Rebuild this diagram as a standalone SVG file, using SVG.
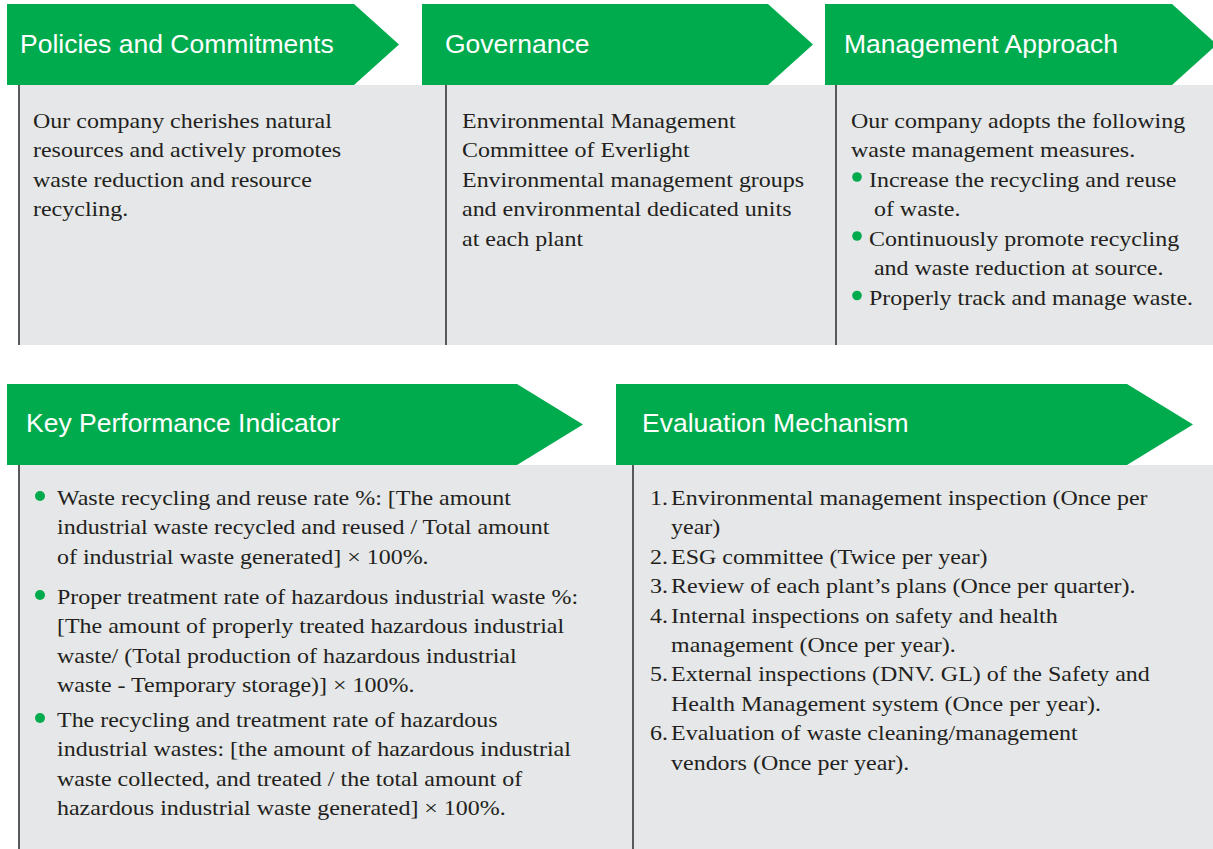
<svg xmlns="http://www.w3.org/2000/svg" width="1213" height="849" viewBox="0 0 1213 849">
<style>
.bg{fill:#E6E7E8}
.ban{fill:#00AB4E}
.vl{stroke:#58595B;stroke-width:2}
.hd{font-family:"Liberation Sans",Arial,sans-serif;font-size:26.5px;fill:#FFFFFF}
.tx{font-family:"Liberation Serif","Times New Roman",serif;font-size:22px;fill:#231F20}
.dot{fill:#00AB4E}
</style>
<rect width="1213" height="849" fill="#FFFFFF"/>
<rect class="bg" x="18" y="85" width="1195" height="260"/>
<rect class="bg" x="18" y="465" width="1195" height="384"/>
<g id="connectors">
<line class="vl" x1="19" y1="85" x2="19" y2="345"/>
<line class="vl" x1="446" y1="85" x2="446" y2="345"/>
<line class="vl" x1="836" y1="85" x2="836" y2="345"/>
<line class="vl" x1="19" y1="465" x2="19" y2="849"/>
<line class="vl" x1="633" y1="465" x2="633" y2="849"/>
</g>
<g id="policies">
<polygon class="ban" points="7,4 354,4 399,44.5 354,85 7,85"/>
<text class="hd" x="20" y="53">Policies and Commitments</text>
<text class="tx" transform="translate(33 128) scale(1.09 1)"><tspan x="0" dy="0">Our company cherishes natural</tspan><tspan x="0" dy="29.5">resources and actively promotes</tspan><tspan x="0" dy="29.5">waste reduction and resource</tspan><tspan x="0" dy="29.5">recycling.</tspan></text>
</g>
<g id="governance">
<polygon class="ban" points="422,4 768,4 813,44.5 768,85 422,85"/>
<text class="hd" x="445" y="53">Governance</text>
<text class="tx" transform="translate(462 128) scale(1.09 1)"><tspan x="0" dy="0">Environmental Management</tspan><tspan x="0" dy="29.5">Committee of Everlight</tspan><tspan x="0" dy="29.5">Environmental management groups</tspan><tspan x="0" dy="29.5">and environmental dedicated units</tspan><tspan x="0" dy="29.5">at each plant</tspan></text>
</g>
<g id="management">
<polygon class="ban" points="825,4 1172,4 1217,44.5 1172,85 825,85"/>
<text class="hd" x="844" y="53">Management Approach</text>
<text class="tx" transform="translate(851 128) scale(1.09 1)"><tspan x="0" dy="0">Our company adopts the following</tspan><tspan x="0" dy="29.5">waste management measures.</tspan></text>
<circle class="dot" cx="857" cy="177" r="4.8"/>
<circle class="dot" cx="857" cy="236" r="4.8"/>
<circle class="dot" cx="857" cy="295.5" r="4.8"/>
<text class="tx" transform="translate(869 187) scale(1.09 1)"><tspan x="0" dy="0">Increase the recycling and reuse</tspan><tspan x="4.5" dy="29.5">of waste.</tspan><tspan x="0" dy="29.5">Continuously promote recycling</tspan><tspan x="4.5" dy="29.5">and waste reduction at source.</tspan><tspan x="0" dy="29.5">Properly track and manage waste.</tspan></text>
</g>
<g id="kpi">
<polygon class="ban" points="7,384 517,384 583,424.5 517,465 7,465"/>
<text class="hd" x="26" y="432">Key Performance Indicator</text>
<circle class="dot" cx="40" cy="496" r="5"/>
<circle class="dot" cx="40" cy="595" r="5"/>
<circle class="dot" cx="40" cy="718" r="5"/>
<text class="tx" transform="translate(57 505) scale(1.09 1)"><tspan x="0" dy="0">Waste recycling and reuse rate %: [The amount</tspan><tspan x="0" dy="29.5">industrial waste recycled and reused / Total amount</tspan><tspan x="0" dy="29.5">of industrial waste generated] × 100%.</tspan></text>
<text class="tx" transform="translate(57 604) scale(1.09 1)"><tspan x="0" dy="0">Proper treatment rate of hazardous industrial waste %:</tspan><tspan x="0" dy="29.3">[The amount of properly treated hazardous industrial</tspan><tspan x="0" dy="29.3">waste/ (Total production of hazardous industrial</tspan><tspan x="0" dy="29.3">waste - Temporary storage)] × 100%.</tspan></text>
<text class="tx" transform="translate(57 727) scale(1.09 1)"><tspan x="0" dy="0">The recycling and treatment rate of hazardous</tspan><tspan x="0" dy="29.3">industrial wastes: [the amount of hazardous industrial</tspan><tspan x="0" dy="29.3">waste collected, and treated / the total amount of</tspan><tspan x="0" dy="29.3">hazardous industrial waste generated] × 100%.</tspan></text>
</g>
<g id="evaluation">
<polygon class="ban" points="616,384 1127,384 1193,424.5 1127,465 616,465"/>
<text class="hd" x="642" y="432">Evaluation Mechanism</text>
<text class="tx" transform="translate(650 505) scale(1.09 1)"><tspan x="0" dy="0">1.</tspan><tspan x="19.3" dy="0">Environmental management inspection (Once per</tspan><tspan x="19.3" dy="29.4">year)</tspan><tspan x="0" dy="29.4">2.</tspan><tspan x="19.3" dy="0">ESG committee (Twice per year)</tspan><tspan x="0" dy="29.4">3.</tspan><tspan x="19.3" dy="0">Review of each plant’s plans (Once per quarter).</tspan><tspan x="0" dy="29.4">4.</tspan><tspan x="19.3" dy="0">Internal inspections on safety and health</tspan><tspan x="19.3" dy="29.4">management (Once per year).</tspan><tspan x="0" dy="29.4">5.</tspan><tspan x="19.3" dy="0">External inspections (DNV. GL) of the Safety and</tspan><tspan x="19.3" dy="29.4">Health Management system (Once per year).</tspan><tspan x="0" dy="29.4">6.</tspan><tspan x="19.3" dy="0">Evaluation of waste cleaning/management</tspan><tspan x="19.3" dy="29.4">vendors (Once per year).</tspan></text>
</g>
</svg>
